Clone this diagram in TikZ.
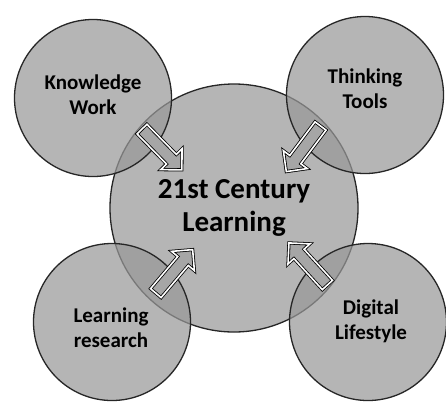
\documentclass[tikz,border=0pt]{standalone}
\usepackage{fontspec}
\setmainfont{Carlito}
\usetikzlibrary{shapes.arrows}
\begin{document}
\begin{tikzpicture}[x=1pt,y=-1pt,
  bubble/.style={circle, draw=black!85, line width=1.3pt, fill=black!40, fill opacity=0.72,
    text opacity=1, align=center, font=\bfseries, inner sep=0pt},
  outer/.style={bubble, minimum size=157pt},
  hub/.style={bubble, minimum size=248pt},
  biglabel/.style={font=\bfseries\fontsize{29}{33}\selectfont, align=center},
  label/.style={font=\bfseries\fontsize{21}{25}\selectfont, align=center},
  blockarrow/.style={single arrow, draw=black, double=white, double distance=1.6pt,
    line width=0.8pt, fill=black!35, inner sep=6.5pt, single arrow head extend=8pt,
    minimum height=57pt, sloped, allow upside down, midway}]
  \useasboundingbox (0,0) rectangle (446,410);
  \fill[white] (0,0) rectangle (446,410);

  % central topic and the four surrounding themes
  \node[hub]   (core)  at (234,208) {};
  \node[outer] (know)  at (93,98)   {};
  \node[outer] (think) at (365,95)  {};
  \node[outer] (learn) at (112,322) {};
  \node[outer] (digit) at (368,322) {};

  % labels on top of the overlapping discs
  \node[biglabel] (corelbl)  at (core)      {21st Century\\Learning};
  \node[label]    (knowlbl)  at (93,95)     {Knowledge\\Work};
  \node[label]    (thinklbl) at (365,89)    {Thinking\\Tools};
  \node[label]    (learnlbl) at (111,328)   {Learning\\research};
  \node[label]    (digitlbl) at (371,321)   {Digital\\Lifestyle};

  % block arrows feeding into the centre
  \coordinate (k1) at (138,125); \coordinate (k2) at (181,169);
  \coordinate (t1) at (322,124); \coordinate (t2) at (289,168);
  \coordinate (l1) at (150,300); \coordinate (l2) at (194,248);
  \coordinate (d1) at (332,290); \coordinate (d2) at (289,243);
  \path (k1) -- (k2) node[blockarrow] (ka) {};
  \path (t1) -- (t2) node[blockarrow] (ta) {};
  \path (l1) -- (l2) node[blockarrow] (la) {};
  \path (d1) -- (d2) node[blockarrow] (da) {};
\end{tikzpicture}
\end{document}
